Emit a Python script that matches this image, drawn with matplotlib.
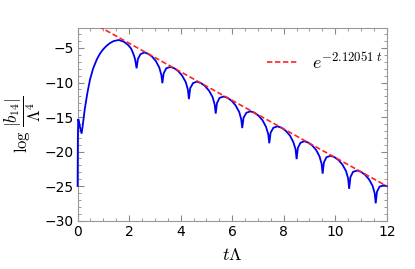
import numpy as np
import matplotlib
matplotlib.use('Agg')
import matplotlib.pyplot as plt
from matplotlib.ticker import MultipleLocator

# curva log|b14|/Lambda^4
t_vals = [0.0, 0.01, 0.025, 0.06, 0.1, 0.155, 0.2, 0.28, 0.38, 0.48, 0.6, 0.74, 0.87, 0.99,
          1.12, 1.25, 1.4, 1.6, 1.8, 1.97, 2.08, 2.16, 2.23, 2.29,
          2.34, 2.44, 2.59, 2.74, 2.89, 3.04, 3.17, 3.25, 3.29,
          3.34, 3.44, 3.60, 3.75, 3.91, 4.06, 4.20, 4.28, 4.32,
          4.37, 4.48, 4.63, 4.79, 4.94, 5.10, 5.24, 5.32, 5.36,
          5.41, 5.51, 5.67, 5.82, 5.98, 6.13, 6.27, 6.35, 6.39,
          6.44, 6.55, 6.71, 6.86, 7.02, 7.18, 7.31, 7.40, 7.44,
          7.49, 7.60, 7.76, 7.92, 8.08, 8.24, 8.37, 8.46, 8.50,
          8.55, 8.65, 8.80, 8.95, 9.11, 9.26, 9.39, 9.47, 9.51,
          9.56, 9.66, 9.82, 9.97, 10.13, 10.28, 10.42, 10.50, 10.54,
          10.59, 10.69, 10.85, 11.00, 11.16, 11.31, 11.45, 11.53, 11.57,
          11.62, 11.72, 11.88, 12.0]
log_b = [-25.0, -18.0, -15.3, -15.8, -16.6, -17.4, -16.2, -13.8, -11.5, -9.6, -8.0, -6.7, -5.8, -5.2,
         -4.7, -4.3, -4.0, -3.84, -4.1, -4.6, -5.1, -5.8, -6.6, -7.94,
         -6.6, -5.9, -5.65, -5.84, -6.25, -6.91, -7.83, -8.9, -10.1,
         -8.68, -7.94, -7.74, -7.93, -8.36, -9.02, -9.96, -11.03, -12.4,
         -10.82, -10.09, -9.87, -10.09, -10.5, -11.18, -12.12, -13.18, -14.5,
         -12.97, -12.23, -12.03, -12.22, -12.65, -13.31, -14.25, -15.32, -16.6,
         -15.1, -14.38, -14.18, -14.37, -14.8, -15.48, -16.4, -17.49, -18.8,
         -17.27, -16.55, -16.35, -16.56, -17.0, -17.68, -18.6, -19.68, -21.1,
         -19.47, -18.73, -18.51, -18.7, -19.13, -19.79, -20.71, -21.77, -23.2,
         -21.56, -20.82, -20.62, -20.81, -21.24, -21.9, -22.84, -23.9, -25.4,
         -23.69, -22.95, -22.75, -22.94, -23.37, -24.03, -24.97, -26.04, -27.5,
         -25.82, -25.08, -24.88, -25.0]

# recta del ajuste exponencial
fit_t = [0.0, 12.0]
fit_y = [-0.17, -25.01]
fit_label = r'$e^{-2.12051\ t}$'

plt.rcParams['mathtext.fontset'] = 'cm'
plt.rcParams['font.family'] = 'DejaVu Sans'

fig = plt.figure(figsize=(4.15, 2.69), dpi=100)
ax = fig.add_axes([0.187, 0.18, 0.745, 0.716])

ax.plot(t_vals, log_b, color='#0000ee', lw=1.3, solid_joinstyle='miter', clip_on=False, zorder=4)
ax.plot(fit_t, fit_y, color='#ff2020', lw=1.2, ls=(0, (3.2, 1.6)), label=fit_label, zorder=5)

ax.set_xlim(0, 12)
ax.set_ylim(-30, -2.1)
ax.xaxis.set_major_locator(MultipleLocator(2))
ax.xaxis.set_minor_locator(MultipleLocator(0.5))
ax.yaxis.set_major_locator(MultipleLocator(5))
ax.yaxis.set_minor_locator(MultipleLocator(1))
ax.tick_params(which='both', direction='in', top=True, right=True, color='#888888', labelsize=10)
ax.tick_params(which='major', length=4, width=0.8, pad=3)
ax.tick_params(which='minor', length=2.2, width=0.6)
for s in ax.spines.values():
    s.set_color('#999999')
    s.set_linewidth(0.8)

ax.set_xlabel(r'$t\Lambda$', fontsize=13, labelpad=5)
ax.set_ylabel(r'$\log\,\dfrac{|b_{14}|}{\Lambda^4}$', fontsize=12, labelpad=1)

ax.legend(loc='center left', bbox_to_anchor=(0.56, 0.823), frameon=False,
          handlelength=1.75, handletextpad=0.75, fontsize=13)

fig.savefig('out.png', dpi=100)
